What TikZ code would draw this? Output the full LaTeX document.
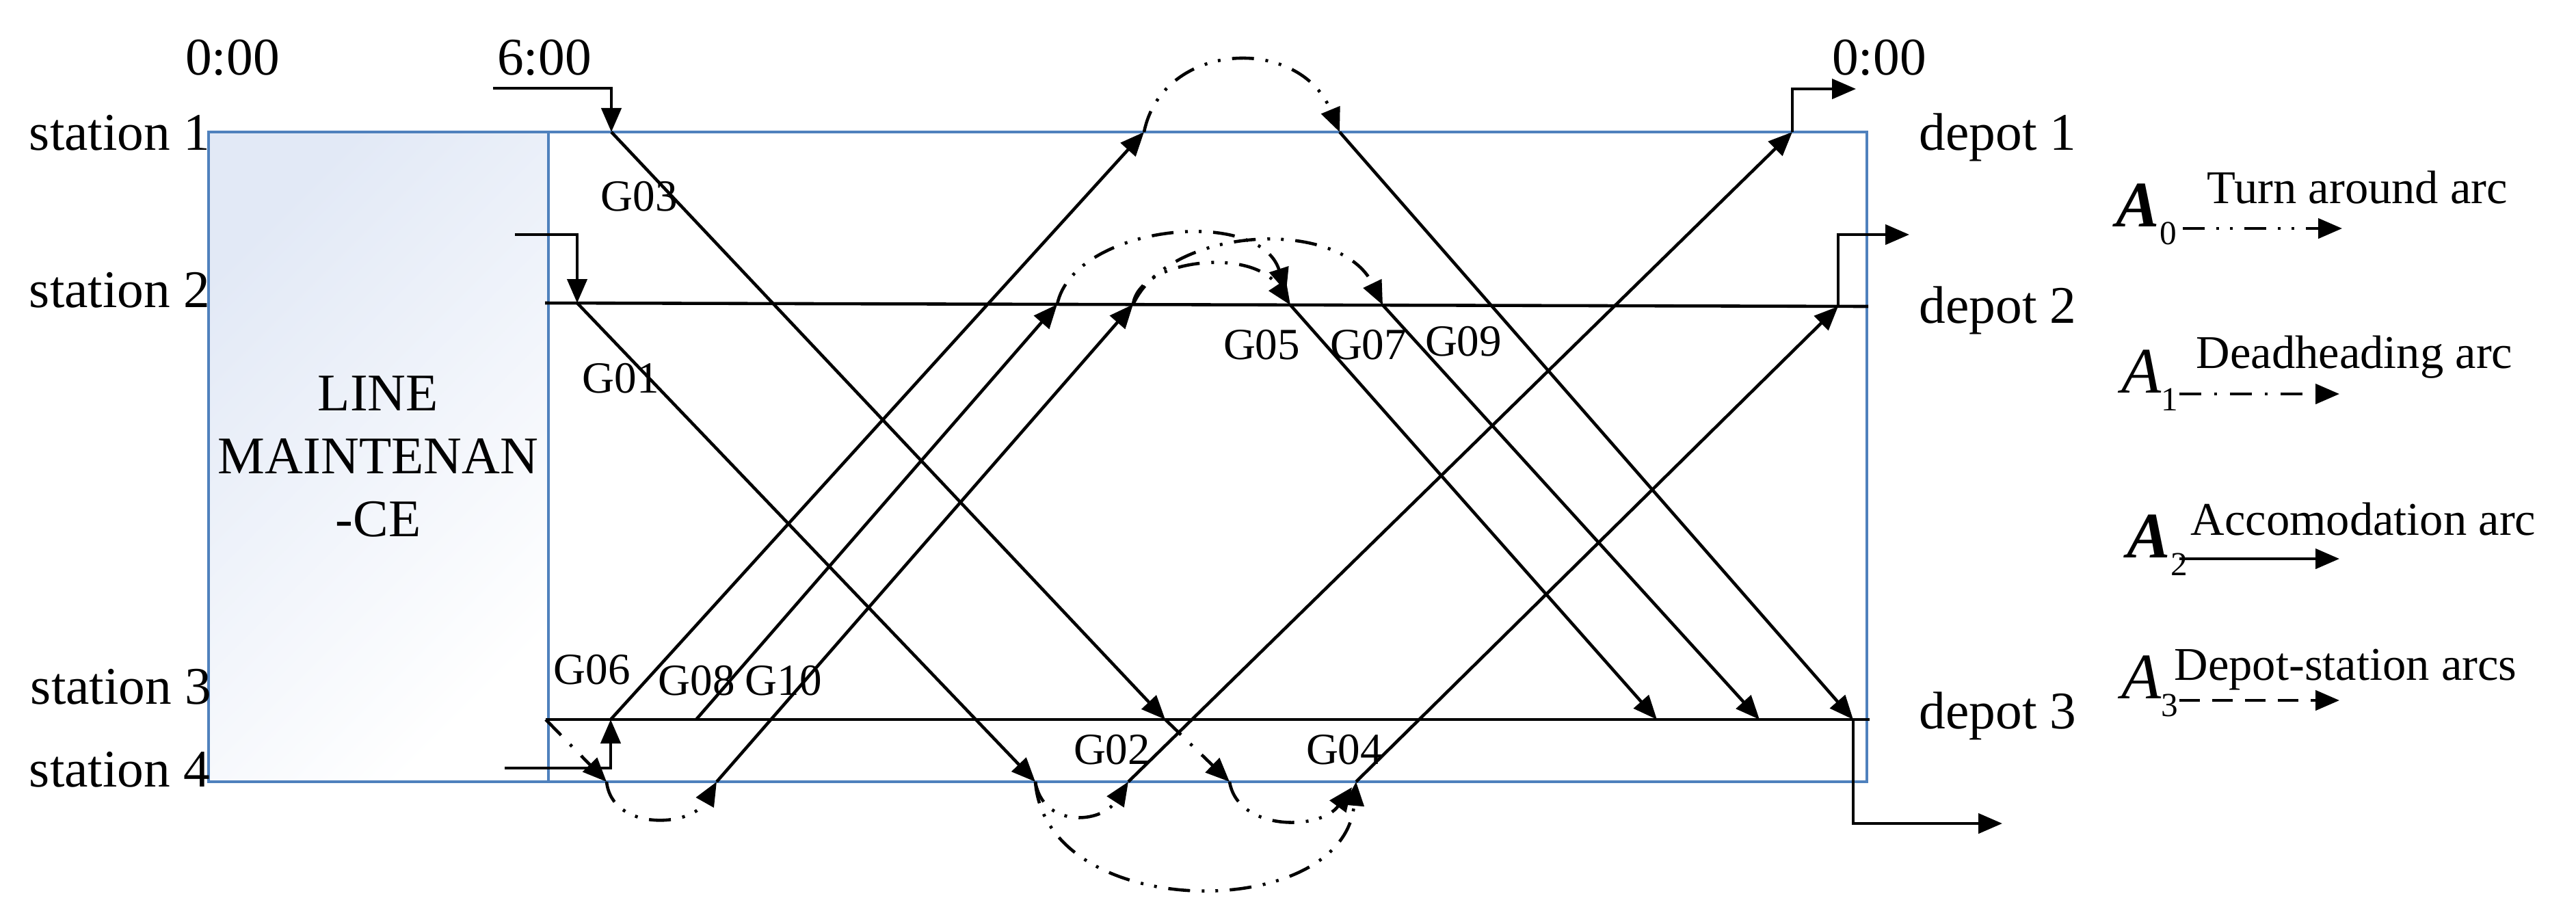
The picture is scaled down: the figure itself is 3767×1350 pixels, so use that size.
\documentclass[tikz,border=0pt]{standalone}
\usepackage{fontspec}
\setmainfont{Liberation Serif}
\usetikzlibrary{arrows.meta}
\definecolor{boxblue}{RGB}{79,129,189}
\definecolor{maintshade}{RGB}{226,233,246}
\newcommand{\arcname}[2][\bfseries]{{\fontsize{27}{30}\selectfont#1\itshape A}\raisebox{-0.26cm}{\fontsize{14}{16}\selectfont#2}}
\begin{document}
\begin{tikzpicture}[x=0.01cm,y=-0.01cm,
    trip/.style={line width=1.3pt,-{Triangle[length=3.5mm,width=2.9mm]}},
    turnaround/.style={trip,dash pattern=on 3.2mm off 1.7mm on 0.4mm off 1.6mm on 0.4mm off 1.7mm},
    deadhead/.style={trip,dash pattern=on 3.2mm off 1.9mm on 0.4mm off 1.9mm},
    depotarc/.style={trip,dash pattern=on 3mm off 1.8mm},
    boxframe/.style={draw=boxblue,line width=1.2pt},
    bigtext/.style={font=\fontsize{22}{26}\selectfont,inner sep=0pt},
    gname/.style={font=\fontsize{18.5}{22}\selectfont,inner sep=0pt},
    legendtext/.style={font=\fontsize{19.5}{23}\selectfont,inner sep=0pt,anchor=base west}]
  \useasboundingbox (0,0) rectangle (3767,1350);
  \shade[top color=maintshade,middle color=white!65!maintshade,bottom color=white,shading angle=45] (305,193) rectangle (802,1143);
  \draw[boxframe] (305,193) rectangle (2730,1143);
  \draw[boxframe] (802,193) -- (802,1143);
  \draw
    (340,109) node[bigtext,anchor=base] (t0) {0:00}
    (796,109) node[bigtext,anchor=base] (t6) {6:00}
    (2748,109) node[bigtext,anchor=base] (t24) {0:00}
    (308,219) node[bigtext,anchor=base east] (st1) {station 1}
    (308,449) node[bigtext,anchor=base east] (st2) {station 2}
    (310,1029) node[bigtext,anchor=base east] (st3) {station 3}
    (308,1150) node[bigtext,anchor=base east] (st4) {station 4}
    (2806,219) node[bigtext,anchor=base west] (dp1) {depot 1}
    (2806,472) node[bigtext,anchor=base west] (dp2) {depot 2}
    (2806,1065) node[bigtext,anchor=base west] (dp3) {depot 3}
    (553,600) node[bigtext,anchor=base] (lm1) {LINE}
    (553,692) node[bigtext,anchor=base] (lm2) {MAINTENAN}
    (553,784) node[bigtext,anchor=base] (lm3) {-CE};
  \draw
    (935,308) node[gname,anchor=base] (g03) {G03}
    (908,574) node[gname,anchor=base] (g01) {G01}
    (866,1000) node[gname,anchor=base] (g06) {G06}
    (1019,1016) node[gname,anchor=base] (g08) {G08}
    (1146,1016) node[gname,anchor=base] (g10) {G10}
    (1845,525) node[gname,anchor=base] (g05) {G05}
    (2001,525) node[gname,anchor=base] (g07) {G07}
    (2140,520) node[gname,anchor=base] (g09) {G09}
    (1626,1117) node[gname,anchor=base] (g02) {G02}
    (1966,1117) node[gname,anchor=base] (g04) {G04};
  % trip ends
  \path
    (721,129) coordinate (in6) (894,193) coordinate (g03s) (1704,1052) coordinate (g03e)
    (753,343) coordinate (in2) (844,443) coordinate (g01s) (1514,1143) coordinate (g01e)
    (738,1123) coordinate (in4) (893,1052) coordinate (g06s) (1673,193) coordinate (g06e)
    (1018,1052) coordinate (g08s) (1546,445) coordinate (g08e)
    (1048,1143) coordinate (g10s) (1657,445) coordinate (g10e)
    (1887,446) coordinate (g05s) (2423,1052) coordinate (g05e)
    (2022,446) coordinate (g07s) (2573,1052) coordinate (g07e)
    (1959,193) coordinate (g09s) (2710,1052) coordinate (g09e)
    (1650,1143) coordinate (g02s) (2621,193) coordinate (g02e)
    (1983,1143) coordinate (g04s) (2688,448) coordinate (g04e)
    (2714,130) coordinate (out1) (2792,343) coordinate (out2) (2928,1204) coordinate (out3)
    (797,443) coordinate (s2l) (2732,448) coordinate (s2r)
    (798,1052) coordinate (s3l) (2734,1052) coordinate (s3r)
    (887,1143) coordinate (dh1e) (1798,1143) coordinate (dh2e);
  \begin{scope}[line width=1.3pt]
    \draw (s2l) to (s2r);
    \draw (s3l) to (s3r);
  \end{scope}
  \begin{scope}[trip]
    \draw (in6) -| (g03s);
    \draw (in2) -| (g01s);
    \draw (in4) -| (g06s);
    \draw (g03s) to (g03e);
    \draw (g01s) to (g01e);
    \draw (g06s) to (g06e);
    \draw (g08s) to (g08e);
    \draw (g10s) to (g10e);
    \draw (g05s) to (g05e);
    \draw (g07s) to (g07e);
    \draw (g09s) to (g09e);
    \draw (g02s) to (g02e);
    \draw (g04s) to (g04e);
    \draw (g02e) |- (out1);
    \draw (g04e) |- (out2);
    \draw (g09e) |- (out3);
  \end{scope}
  \draw[deadhead] (s3l) to (dh1e);
  \draw[deadhead] (g03e) to (dh2e);
  \draw[turnaround] (g06e) .. controls +(27,-133) and +(-59,-143) .. (g09s);
  \draw[turnaround,shorten >=2mm] (g08e) .. controls +(24,-115) and +(-47,-146) .. (g05s);
  \draw[turnaround] (g10e) .. controls +(8,-65) and +(-57,-86) .. (g05s);
  \draw[turnaround] (g10e) .. controls +(53,-115) and +(-62,-129) .. (g07s);
  \draw[turnaround] (dh1e) .. controls +(8,72) and +(-38,67) .. (g10s);
  \draw[turnaround] (g01e) .. controls +(11,67) and +(-40,62) .. (g02s);
  \draw[turnaround] (g01e) .. controls +(16,207) and +(-18,207) .. (g04s);
  \draw[turnaround,shorten >=1mm] (dh2e) .. controls +(12,72) and +(-53,72) .. (g04s);
  % legend
  \draw
    (3094,331) node[inner sep=0pt,anchor=base west] (a0) {\arcname{0}}
    (3227,297) node[legendtext] (a0t) {Turn around arc}
    (3102,574) node[inner sep=0pt,anchor=base west] (a1) {\arcname[\mdseries]{1}}
    (3211,538) node[legendtext] (a1t) {Deadheading arc}
    (3110,815) node[inner sep=0pt,anchor=base west] (a2) {\arcname{2}}
    (3203,782) node[legendtext] (a2t) {Accomodation arc}
    (3102,1021) node[inner sep=0pt,anchor=base west] (a3) {\arcname[\mdseries]{3}}
    (3179,994) node[legendtext] (a3t) {Depot-station arcs};
  \path
    (3192,334) coordinate (la0s) (3425,334) coordinate (la0e)
    (3187,576) coordinate (la1s) (3421,576) coordinate (la1e)
    (3187,817) coordinate (la2s) (3421,817) coordinate (la2e)
    (3187,1024) coordinate (la3s) (3421,1024) coordinate (la3e);
  \draw[turnaround] (la0s) to (la0e);
  \draw[deadhead] (la1s) to (la1e);
  \draw[trip] (la2s) to (la2e);
  \draw[depotarc] (la3s) to (la3e);
\end{tikzpicture}
\end{document}
